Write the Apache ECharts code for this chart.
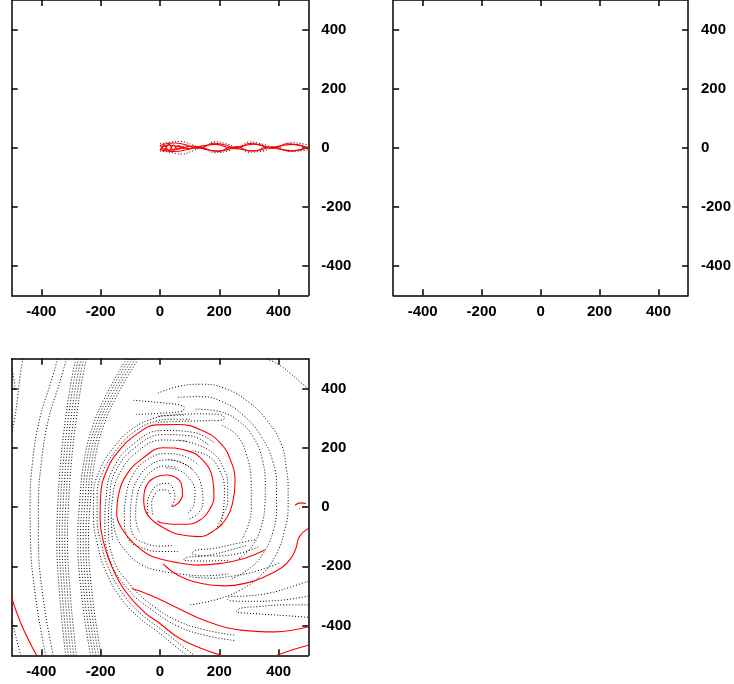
<!DOCTYPE html>
<html><head><meta charset="utf-8">
<script src="https://cdn.jsdelivr.net/npm/echarts@6/dist/echarts.min.js"></script>
<style>html,body{margin:0;padding:0;background:#fff}#c{width:734px;height:684px}</style>
</head><body><div id="c"></div>
<script>
// ---- tick labels / axis range ----
const tickValues = [-400, -200, 0, 200, 400];
const axisMin = -500, axisMax = 500;

// ---- panel 1 (top-left): braided band along y=0 ----
const p1RedA = [[0,6],[20,13],[50,16],[80,11],[130,-3],[180,15],[220,9],[260,-4],[300,14],[340,9],[380,-3],[430,13],[470,7],[500,0]];
const p1RedB = [[0,-6],[20,-11],[50,-13],[90,-7],[130,3],[180,-11],[220,-9],[260,4],[300,-11],[340,-8],[380,3],[430,-11],[470,-7],[500,2]];
const p1RedC = [[5,0],[30,9],[60,3],[100,-3],[150,7],[190,11],[240,-2],[280,6],[320,12],[370,-1],[410,7],[450,11],[500,-2]];
const p1RedD = [[5,-3],[40,-9],[70,-2],[110,5],[160,-7],[200,-13],[240,2],[280,-7],[320,-11],[360,2],[410,-6],[450,-11],[500,1]];
const p1RedE = [[0,9],[15,-6],[30,11],[45,-8],[60,7],[80,-4]];
const p1RedF = [[0,-9],[15,7],[30,-10],[45,9],[60,-5],[80,5]];
const p1DotA = [[0,13],[40,19],[70,21],[110,9],[140,-2],[185,20],[230,11],[262,0],[300,19],[350,11],[390,0],[440,17],[500,9]];
const p1DotB = [[0,-11],[40,-17],[75,-22],[110,-11],[140,0],[185,-17],[230,-11],[262,2],[300,-15],[350,-11],[390,2],[440,-13],[500,-7]];

// ---- panel 3 (bottom-left): red spiral arms ----
const redArm1 = [[39,1],[62,14],[76,42],[72,78],[52,100],[22,108],[-12,102],[-38,84],[-52,55],[-55,22],[-50,-10],[-34,-37],[-5,-60],[30,-80],[61,-92],[128,-100],[184,-78],[224,-38],[244,10],[253,84],[240,152],[203,216],[138,260],[60,278],[-11,277],[-79,245],[-138,190],[-180,122],[-200,40],[-202,-40],[-190,-120],[-162,-202],[-112,-290],[-52,-355],[0,-393],[61,-440],[140,-477],[207,-500]];
const redArm2 = [[-8,-46],[0,-52],[44,-58],[91,-58],[135,-44],[166,-10],[182,34],[178,91],[146,156],[91,190],[10,200],[-56,166],[-112,110],[-140,40],[-146,-20],[-129,-72],[-91,-120],[-40,-160],[4,-176],[61,-188],[128,-196],[207,-190],[286,-173],[353,-145]];
const redSeg3 = [[500,-72],[470,-100],[458,-140],[440,-175],[410,-205],[353,-235],[297,-255],[218,-266],[140,-258],[61,-230],[10,-192]];
const redSeg4 = [[500,-404],[387,-421],[274,-415],[162,-387],[50,-336],[-30,-298],[-95,-275]];
const redCorner = [[500,-466],[445,-482],[394,-500]];
const redOuterLeft = [[-506,-287],[-470,-390],[-416,-500]];
const redFrag = [[455,6],[475,14],[492,12]];

// ---- panel 3: black dotted tracer lines ----
const dotEdge = [
  [[-462,500],[-472,440],[-480,370],[-490,300],[-500,250]],
  [[-500,-380],[-485,-440],[-470,-500]],
  [[-500,470],[-492,430],[-488,390]]
];
const dotBandA = [
  [[-385,-500],[-420,-300],[-437,-100],[-438,0],[-430,150],[-405,300],[-368,420],[-345,500]],
  [[-360,-500],[-395,-300],[-410,-100],[-410,0],[-400,150],[-375,300],[-338,420],[-315,500]]
];
const dotBandB = [
  [[-318,-500],[-338,-300],[-348,-100],[-345,0],[-335,150],[-318,300],[-300,420],[-284,500]],
  [[-309,-500],[-329,-300],[-339,-100],[-336,0],[-326,150],[-309,300],[-291,420],[-275,500]],
  [[-300,-500],[-320,-300],[-330,-100],[-327,0],[-317,150],[-300,300],[-282,420],[-266,500]],
  [[-291,-500],[-311,-300],[-321,-100],[-318,0],[-308,150],[-291,300],[-273,420],[-257,500]],
  [[-282,-500],[-302,-300],[-312,-100],[-309,0],[-299,150],[-282,300],[-264,420],[-248,500]]
];
const dotBandC = [
  [[-234,-500],[-264,-300],[-277,-100],[-272,0],[-257,150],[-224,280],[-170,400],[-112,500]],
  [[-225,-500],[-255,-300],[-268,-100],[-263,0],[-248,150],[-215,280],[-161,400],[-102,500]],
  [[-216,-500],[-246,-300],[-259,-100],[-254,0],[-239,150],[-206,280],[-151,400],[-92,500]],
  [[-207,-500],[-237,-300],[-250,-100],[-245,0],[-230,150],[-197,280],[-142,400],[-82,500]],
  [[-198,-500],[-228,-300],[-241,-100],[-236,0],[-221,150],[-188,280],[-132,400],[-72,500]]
];
const dotHug = [
  [[100,296],[40,296],[-11,290],[-86,254],[-145,195],[-191,123],[-212,40],[-212,-40],[-198,-124],[-173,-207],[-120,-300],[-58,-366],[-7,-404],[54,-452],[115,-500]],
  [[80,310],[30,308],[-11,302],[-92,265],[-154,203],[-202,127],[-224,40],[-224,-40],[-210,-128],[-184,-214],[-130,-310],[-66,-377],[-14,-416],[40,-460],[90,-500]]
];
const dotInnerBands = [
  [[250,-450],[150,-432],[60,-402],[-20,-352],[-105,-280],[-170,-175],[-186,-60],[-182,30],[-160,125],[-88,214],[10,258],[110,252],[185,215]],
  [[250,-432],[150,-414],[60,-384],[-20,-336],[-97,-266],[-160,-168],[-174,-60],[-170,30],[-150,120],[-82,202],[10,244],[100,240],[165,208]],
  [[-160,-110],[-164,-40],[-160,30],[-140,105],[-78,185],[10,226],[90,222]],
  [[60,-150],[0,-150],[-60,-138],[-105,-110],[-120,-40],[-114,40],[-90,110],[-42,160],[20,180],[80,172],[130,142]],
  [[40,-130],[0,-132],[-50,-122],[-88,-98],[-100,-40],[-95,35],[-74,96],[-32,142],[20,158],[72,150],[112,124]],
  [[-70,-85],[-82,-35],[-78,30],[-60,82],[-24,124],[20,138],[60,132]],
  [[-40,-30],[-42,10],[-30,50],[-5,75],[25,80],[45,60],[50,30],[40,5]],
  [[-25,-25],[-28,10],[-18,42],[5,58],[28,55],[35,35]],
  [[-158,-40],[-148,-95],[-114,-150],[-60,-196],[0,-215],[70,-226],[150,-232],[230,-226]],
  [[205,-60],[215,0],[217,60],[200,125],[165,170],[110,190]],
  [[190,-75],[210,-30],[228,20],[228,80],[212,135],[180,180],[120,212],[60,226]],
  [[100,-40],[130,-20],[145,20],[140,70],[115,120],[70,150],[20,162]],
  [[95,-20],[115,10],[118,50],[100,95],[60,125],[20,132]]
];
const dotRightArcs = [
  [[-7,384],[61,406],[140,414],[218,400],[297,355],[364,288],[410,209],[426,130],[432,63],[432,0],[420,-80],[392,-160],[345,-225],[275,-278],[190,-312],[100,-330]],
  [[60,370],[140,372],[210,355],[280,310],[340,240],[380,155],[393,65],[393,0],[382,-80],[352,-150],[305,-205],[235,-245]],
  [[120,330],[200,322],[265,290],[315,235],[345,160],[355,70],[353,0],[340,-70],[312,-130],[265,-175]],
  [[210,275],[260,240],[292,175],[307,90],[308,0],[298,-60],[275,-110]],
  [[360,500],[400,480],[439,451],[475,420],[500,398]],
  [[470,-5],[485,0],[500,2]]
];
const dotFingers = [
  [[-90,360],[0,352],[60,345],[83,335],[70,322],[0,316],[-80,312]],
  [[-7,306],[128,314],[200,312],[218,300],[200,292],[106,290],[-7,286]],
  [[500,-330],[420,-330],[330,-336],[270,-342],[258,-352],[330,-360],[420,-366],[500,-372]],
  [[500,-250],[440,-270],[370,-290],[290,-300],[235,-302],[228,-312],[300,-318],[400,-315],[500,-300]],
  [[320,-110],[250,-125],[180,-140],[120,-146],[108,-156],[180,-165],[260,-158],[330,-135]],
  [[290,-130],[220,-150],[150,-165],[90,-170],[80,-178],[150,-182],[230,-180]],
  [[400,-190],[330,-215],[250,-232],[170,-240],[100,-235]]
];

// ---- layout ----
const grids = [
  {left: 11.7, top: -1.3, width: 296.6, height: 296.6},
  {left: 393.2, top: -1.3, width: 297, height: 296.6},
  {left: 11.7, top: 358.7, width: 296.6, height: 296.6}
];
const lineCol = '#000';
const labelStyle = {color: '#000', fontSize: 15, fontWeight: 'bold', fontFamily: 'Liberation Sans, Arial, sans-serif'};

const xAxes = [], yAxes = [];
grids.forEach((g, i) => {
  [['bottom', true], ['top', false]].forEach(([pos, lab]) => {
    xAxes.push({type: 'value', gridIndex: i, position: pos, min: axisMin, max: axisMax,
      axisLine: {show: true, onZero: false, lineStyle: {color: lineCol, width: 1.5}},
      axisTick: {show: true, inside: true, length: 6, customValues: tickValues, lineStyle: {color: lineCol, width: 1.5}},
      axisLabel: Object.assign({show: lab, margin: 9, customValues: tickValues}, labelStyle),
      splitLine: {show: false}});
  });
  [['right', true], ['left', false]].forEach(([pos, lab]) => {
    yAxes.push({type: 'value', gridIndex: i, position: pos, min: axisMin, max: axisMax,
      axisLine: {show: true, onZero: false, lineStyle: {color: lineCol, width: 1.5}},
      axisTick: {show: true, inside: true, length: 6, customValues: tickValues, lineStyle: {color: lineCol, width: 1.5}},
      axisLabel: Object.assign({show: lab, margin: 13, customValues: tickValues}, labelStyle),
      splitLine: {show: false}});
  });
});

const series = [];
function addLine(data, gi, kind) {
  const red = kind === 'red';
  series.push({type: 'line', data: data, xAxisIndex: gi * 2, yAxisIndex: gi * 2,
    showSymbol: false, symbol: 'none', smooth: 0.45, silent: true, clip: true,
    lineStyle: red ? {color: '#ff0000', width: 1.1} : {color: '#000', width: 1, type: [1, 2]},
    z: red ? 3 : 2});
}
[p1DotA, p1DotB].forEach(d => addLine(d, 0, 'dot'));
[p1RedA, p1RedB, p1RedC, p1RedD, p1RedE, p1RedF].forEach(d => addLine(d, 0, 'red'));
[].concat(dotEdge, dotBandA, dotBandB, dotBandC, dotHug, dotInnerBands, dotRightArcs, dotFingers).forEach(d => addLine(d, 2, 'dot'));
[redArm1, redArm2, redSeg3, redSeg4, redCorner, redOuterLeft, redFrag].forEach(d => addLine(d, 2, 'red'));

const chart = echarts.init(document.getElementById('c'), null, {renderer: 'canvas'});
chart.setOption({animation: false, backgroundColor: '#fff', grid: grids, xAxis: xAxes, yAxis: yAxes, series: series});
</script></body></html>
